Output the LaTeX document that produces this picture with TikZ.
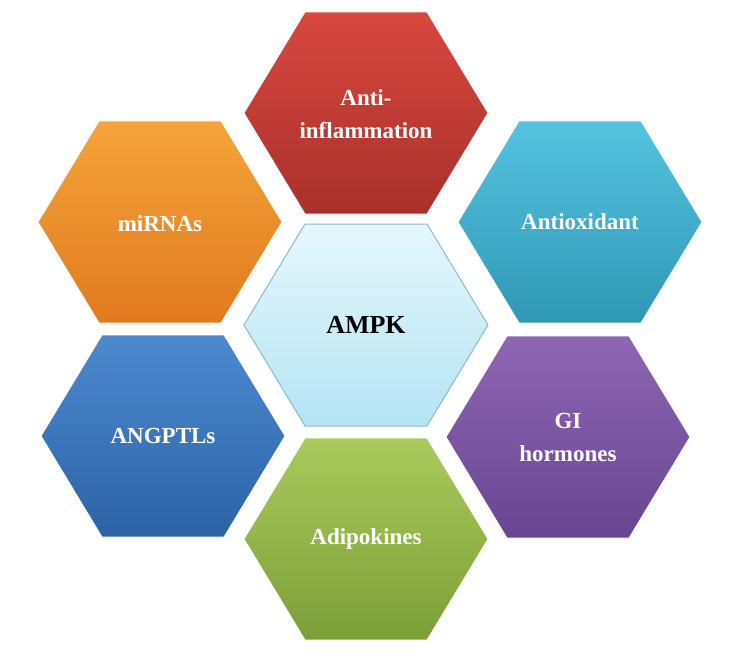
\documentclass[tikz,border=0pt]{standalone}
\usepackage{fontspec}
\setmainfont{Liberation Serif}
\definecolor{rA}{HTML}{D8483F}\definecolor{rB}{HTML}{A8302B}
\definecolor{tA}{HTML}{55C3DF}\definecolor{tB}{HTML}{2F98B5}
\definecolor{pA}{HTML}{8E66B3}\definecolor{pB}{HTML}{684590}
\definecolor{gA}{HTML}{A9CB5C}\definecolor{gB}{HTML}{7C9E37}
\definecolor{bA}{HTML}{4C89CF}\definecolor{bB}{HTML}{2D62A6}
\definecolor{oA}{HTML}{F5A43A}\definecolor{oB}{HTML}{E07A1E}
\definecolor{cA}{HTML}{E6F7FC}\definecolor{cB}{HTML}{B3E4F4}
\definecolor{cD}{HTML}{8DB8C8}
\begin{document}
\begin{tikzpicture}[x=1pt,y=-1pt,
  lbl/.style={font=\bfseries\fontsize{23}{33}\selectfont,text=white,align=center}]
\useasboundingbox (0,0) rectangle (740,661);
\fill[white] (0,0) rectangle (740,661);
\newcommand{\hexa}[4]{%
  \shade[top color=#3,bottom color=#4,draw=white,line width=0.8pt] (#1-122,#2+101) -- (#1-61,#2) -- (#1+61,#2) -- (#1+122,#2+101) -- (#1+61,#2+202) -- (#1-61,#2+202) -- cycle;}
\hexa{366}{12}{rA}{rB}
\hexa{580}{121}{tA}{tB}
\hexa{568}{336}{pA}{pB}
\hexa{366}{438}{gA}{gB}
\hexa{163}{335}{bA}{bB}
\hexa{160}{121}{oA}{oB}
\shade[top color=cA,bottom color=cB,draw=cD,line width=1pt] (244,325) -- (305,224) -- (427,224) -- (488,325) -- (427,426) -- (305,426) -- cycle;
\node[lbl] (anti) at (366,114) {Anti-\\inflammation};
\node[lbl] (antiox) at (580,222) {Antioxidant};
\node[lbl] (gi) at (568,437) {GI\\hormones};
\node[lbl] (adipo) at (366,539) {Adipokines};
\node[lbl] (angptl) at (163,436) {ANGPTLs};
\node[lbl] (mirna) at (160,224) {miRNAs};
\node[lbl,text=black,font=\bfseries\fontsize{26}{30}\selectfont] (ampk) at (366,325) {AMPK};
\end{tikzpicture}
\end{document}
